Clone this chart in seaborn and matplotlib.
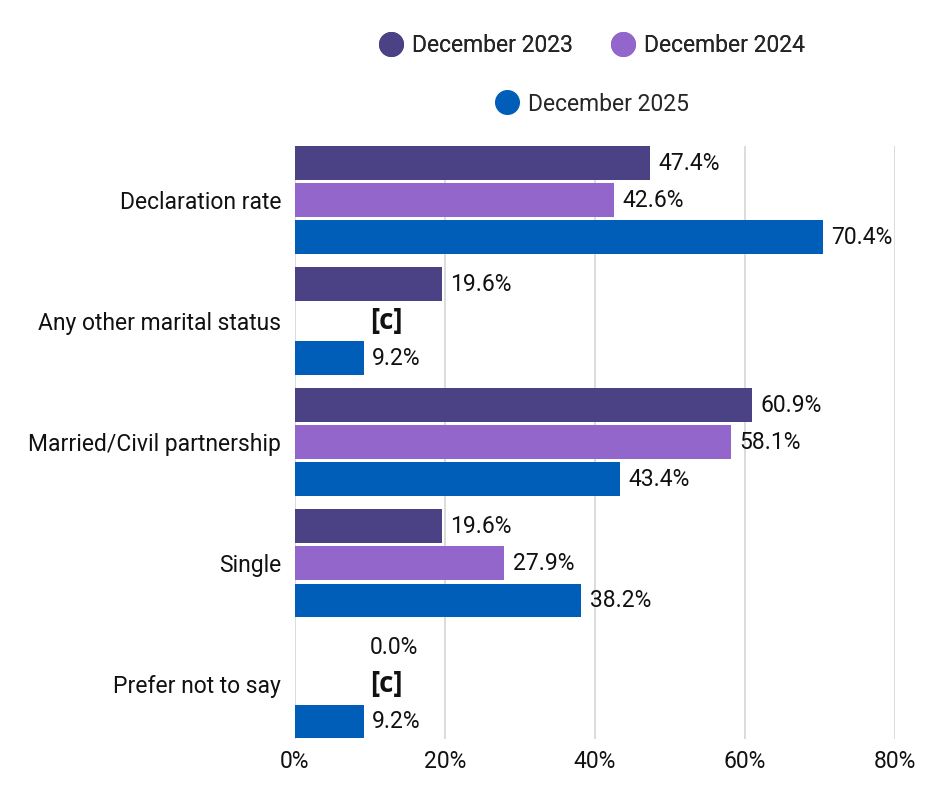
import matplotlib
matplotlib.use("Agg")
import matplotlib.pyplot as plt
from matplotlib.lines import Line2D
import numpy as np
import pandas as pd
import seaborn as sns

sns.set_theme(style="white")
plt.rcParams['font.family'] = ['Roboto', 'DejaVu Sans']

categories = ["Declaration rate", "Any other marital status", "Married/Civil partnership",
              "Single", "Prefer not to say"]
series = ["December 2023", "December 2024", "December 2025"]
dec_2023 = [47.4, 19.6, 60.9, 19.6, 0.0]
dec_2024 = [42.6, np.nan, 58.1, 27.9, np.nan]
dec_2025 = [70.4, 9.2, 43.4, 38.2, 9.2]
colors = ["#4b4285", "#9366cc", "#005eb8"]
x_ticks = [0, 20, 40, 60, 80]
x_tick_labels = ["0%", "20%", "40%", "60%", "80%"]
suppressed_label = "[c]"
small_label_x = 10.0  # where the "[c]" / "0.0%" notes sit

values = {"December 2023": dec_2023, "December 2024": dec_2024, "December 2025": dec_2025}
rows = []
for s in series:
    for cat, v in zip(categories, values[s]):
        rows.append({"category": cat, "series": s, "value": v})
df = pd.DataFrame(rows)
df["plot_value"] = df["value"].fillna(0)

fig = plt.figure(figsize=(9.4, 7.88), dpi=100)
ax = fig.add_axes([0.3138, 0.0625, 0.6383, 0.7525])

sns.barplot(data=df, x="plot_value", y="category", hue="series", orient="h",
            order=categories, hue_order=series, palette=colors, saturation=1,
            width=0.92, gap=0.09, errorbar=None, legend=False, linewidth=0, ax=ax)

fs = 16.5
for container, s in zip(ax.containers, series):
    labels = []
    for bar, v in zip(container, values[s]):
        yc = bar.get_y() + bar.get_height() / 2
        if np.isnan(v):
            labels.append("")
            ax.text(small_label_x, yc, suppressed_label, va="center", ha="left",
                    fontsize=20, fontweight="bold", family=["Open Sans", "DejaVu Sans"],
                    color="#111111")
        elif v == 0:
            labels.append("")
            ax.text(small_label_x, yc, f"{v:.1f}%", va="center", ha="left",
                    fontsize=fs, color="#111111")
        else:
            labels.append(f"{v:.1f}%")
    ax.bar_label(container, labels=labels, padding=6, fontsize=fs, color="#111111")

ax.set_xlim(0, 80)
ax.set_ylim(4.45, -0.45)
ax.set_xticks(x_ticks)
ax.set_xticklabels(x_tick_labels, fontsize=fs, color="#111111")
ax.tick_params(axis="y", labelsize=fs, labelcolor="#111111", length=0, pad=10)
ax.tick_params(axis="x", length=0, pad=8)
ax.set_xlabel("")
ax.set_ylabel("")
ax.xaxis.grid(True, color="#d6d6d6", linewidth=1.2)
ax.set_axisbelow(True)
for sp in ax.spines.values():
    sp.set_visible(False)


def handle(c):
    return Line2D([], [], marker="o", linestyle="", markersize=17,
                  markerfacecolor=c, markeredgecolor=c)


leg1 = fig.legend([handle(colors[0]), handle(colors[1])], series[:2], ncol=2,
                  loc="center", bbox_to_anchor=(0.629, 0.942), frameon=False,
                  fontsize=fs, handletextpad=0.3, columnspacing=1.6, handlelength=1.2)
leg2 = fig.legend([handle(colors[2])], series[2:], ncol=1,
                  loc="center", bbox_to_anchor=(0.629, 0.868), frameon=False,
                  fontsize=fs, handletextpad=0.3, handlelength=1.2)
fig.add_artist(leg1)

fig.savefig("out.png", dpi=100)
